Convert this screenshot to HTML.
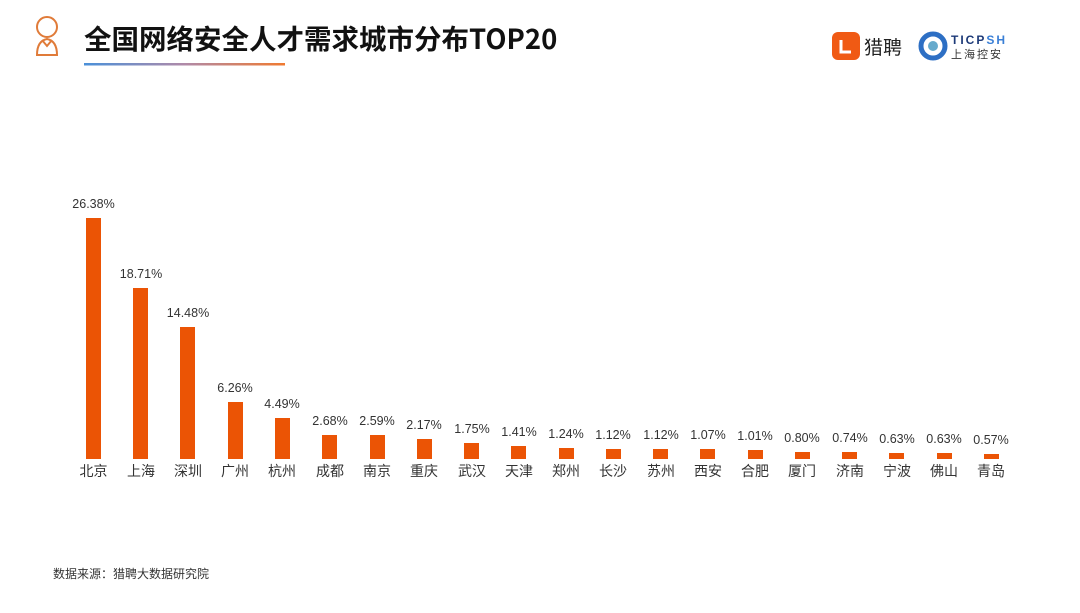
<!DOCTYPE html><html><head><meta charset="utf-8"><style>
body{margin:0;width:1080px;height:608px;background:#fff;overflow:hidden;font-family:"Liberation Sans","Noto Sans CJK SC",sans-serif}
</style></head><body>
<svg width="1080" height="608" xmlns="http://www.w3.org/2000/svg" font-family="Liberation Sans, Noto Sans CJK SC, sans-serif">
<defs><linearGradient id="g" x1="0" x2="1"><stop offset="0" stop-color="#4a90d9"/><stop offset="0.5" stop-color="#b08aa8"/><stop offset="1" stop-color="#f07a30"/></linearGradient></defs>
<g fill="none" stroke="#e07b39" stroke-width="2">
<circle cx="47" cy="27" r="10"/><path d="M37 55 q0-14 10-16 q10 2 10 16 z"/><path d="M42 40 l5 6 l5-6"/>
</g>
<text x="84" y="49" font-size="27.5" font-weight="bold" fill="#111" font-family="Noto Sans CJK SC, sans-serif">全国网络安全人才需求城市分布TOP20</text>
<rect x="84" y="63" width="201" height="2.5" fill="url(#g)"/>
<rect x="832" y="32" width="28" height="28" rx="6" fill="#f05a14"/>
<path d="M841 40 l0 12 l10 0" stroke="#fff" stroke-width="3" fill="none"/>
<text x="864" y="54" font-size="19" fill="#222" font-family="Noto Sans CJK SC, sans-serif">猎聘</text>
<circle cx="933" cy="46" r="12" fill="none" stroke="#2d6fc4" stroke-width="5"/>
<circle cx="933" cy="46" r="5" fill="#6ac"/>
<text x="951" y="44" font-size="12" font-weight="bold" fill="#1d3a78" letter-spacing="2">TICP<tspan fill="#3a7fd6">SH</tspan></text>
<text x="951" y="58" font-size="11" fill="#333" letter-spacing="2" font-family="Noto Sans CJK SC, sans-serif">上海控安</text>
<g fill="#eb5405">
<rect x="86" y="218" width="15" height="241"/><rect x="133" y="288" width="15" height="171"/><rect x="180" y="327" width="15" height="132"/><rect x="228" y="402" width="15" height="57"/><rect x="275" y="418" width="15" height="41"/><rect x="322" y="435" width="15" height="24"/><rect x="370" y="435" width="15" height="24"/><rect x="417" y="439" width="15" height="20"/><rect x="464" y="443" width="15" height="16"/><rect x="511" y="446" width="15" height="13"/><rect x="559" y="448" width="15" height="11"/><rect x="606" y="449" width="15" height="10"/><rect x="653" y="449" width="15" height="10"/><rect x="700" y="449" width="15" height="10"/><rect x="748" y="450" width="15" height="9"/><rect x="795" y="452" width="15" height="7"/><rect x="842" y="452" width="15" height="7"/><rect x="889" y="453" width="15" height="6"/><rect x="937" y="453" width="15" height="6"/><rect x="984" y="454" width="15" height="5"/>
</g>
<g font-size="12.5" fill="#333" text-anchor="middle">
<text x="93.5" y="208">26.38%</text><text x="141" y="278">18.71%</text><text x="188" y="317">14.48%</text><text x="235" y="392">6.26%</text><text x="282" y="408">4.49%</text><text x="330" y="425">2.68%</text><text x="377" y="425">2.59%</text><text x="424" y="429">2.17%</text><text x="472" y="433">1.75%</text><text x="519" y="436">1.41%</text><text x="566" y="438">1.24%</text><text x="613" y="439">1.12%</text><text x="661" y="439">1.12%</text><text x="708" y="439">1.07%</text><text x="755" y="440">1.01%</text><text x="802" y="442">0.80%</text><text x="850" y="442">0.74%</text><text x="897" y="443">0.63%</text><text x="944" y="443">0.63%</text><text x="991" y="444">0.57%</text>
</g>
<g font-size="14" fill="#333" text-anchor="middle" font-family="Noto Sans CJK SC, sans-serif">
<text x="93.5" y="476">北京</text><text x="141" y="476">上海</text><text x="188" y="476">深圳</text><text x="235" y="476">广州</text><text x="282" y="476">杭州</text><text x="330" y="476">成都</text><text x="377" y="476">南京</text><text x="424" y="476">重庆</text><text x="472" y="476">武汉</text><text x="519" y="476">天津</text><text x="566" y="476">郑州</text><text x="613" y="476">长沙</text><text x="661" y="476">苏州</text><text x="708" y="476">西安</text><text x="755" y="476">合肥</text><text x="802" y="476">厦门</text><text x="850" y="476">济南</text><text x="897" y="476">宁波</text><text x="944" y="476">佛山</text><text x="991" y="476">青岛</text>
</g>
<text x="53" y="578" font-size="12" fill="#333" font-family="Noto Sans CJK SC, sans-serif">数据来源：猎聘大数据研究院</text>
</svg>
</body></html>
